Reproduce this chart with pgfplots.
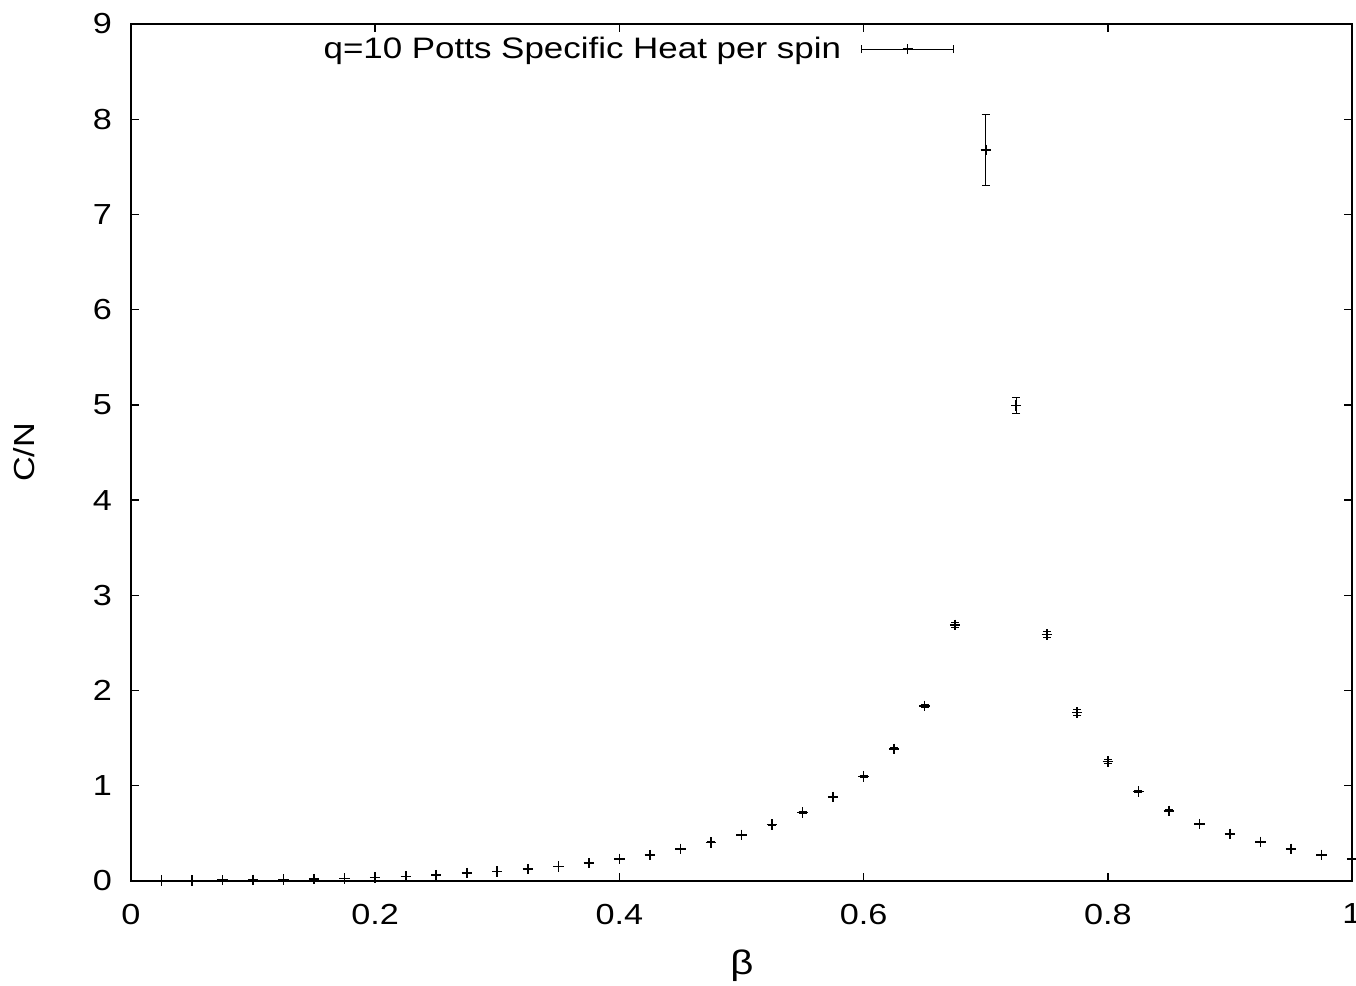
\documentclass[border=0pt]{standalone}
\usepackage{fontspec}
\setmainfont{Liberation Sans}[FakeStretch=1.18]
\usepackage{pgfplots}
\pgfplotsset{compat=1.18}
\usepackage{pgfplotstable}
\pgfplotstableread{
x y e
0.025 0.003 0.001
0.050 0.005 0.001
0.075 0.008 0.001
0.100 0.011 0.001
0.125 0.015 0.001
0.150 0.020 0.001
0.175 0.026 0.001
0.200 0.035 0.002
0.225 0.046 0.002
0.250 0.062 0.002
0.275 0.082 0.002
0.300 0.100 0.002
0.325 0.124 0.003
0.350 0.152 0.003
0.375 0.186 0.003
0.400 0.232 0.004
0.425 0.272 0.004
0.450 0.338 0.004
0.475 0.406 0.005
0.500 0.485 0.005
0.525 0.592 0.006
0.550 0.718 0.007
0.575 0.880 0.008
0.600 1.097 0.010
0.625 1.388 0.012
0.650 1.840 0.015
0.675 2.690 0.025
0.700 7.675 0.370
0.725 4.993 0.085
0.750 2.590 0.035
0.775 1.770 0.030
0.800 1.256 0.020
0.825 0.940 0.012
0.850 0.738 0.010
0.875 0.597 0.008
0.900 0.494 0.006
0.925 0.410 0.005
0.950 0.337 0.004
0.975 0.275 0.004
1.000 0.232 0.003
}\cdata
\begin{document}
\begin{tikzpicture}[font=\fontsize{14.5}{17}\selectfont]
\begin{axis}[
  scale only axis,
  width=610.5pt, height=428.5pt,
  xmin=0, xmax=1, ymin=0, ymax=9,
  xtick={0,0.2,0.4,0.6,0.8,1},
  ytick={0,1,2,3,4,5,6,7,8,9},
  xticklabels={0,0.2,0.4,0.6,0.8,1},
  /pgf/number format/assume math mode=true,
  axis line style={line width=0.9pt},
  major tick length=4pt,
  every tick/.style={black, line width=0.7pt},
  tick align=inside,
  minor tick num=0,
  yticklabel style={xshift=-6pt},
  xticklabel style={yshift=-8pt},
  xlabel={β},
  ylabel={C/N},
  xlabel style={at={(axis description cs:0.5004,0)}, anchor=north, yshift=-31pt, font=\fontsize{17}{19}\selectfont},
  ylabel style={at={(axis description cs:-0.0872,0.5)}, anchor=center},
  clip=false,
  legend plot pos=right,
  legend style={draw=none, fill=none, at={(0.6793,0.9708)}, anchor=east,
    font=\fontsize{14.8}{17}\selectfont, column sep=8pt},
  legend image code/.code={
    \draw[line width=0.5pt] (0pt,0pt) -- (46pt,0pt);
    \draw[line width=0.5pt] (0pt,-2pt) -- (0pt,2pt);
    \draw[line width=0.5pt] (46pt,-2pt) -- (46pt,2pt);
    \draw[line width=0.7pt] (23pt,-2.5pt) -- (23pt,2.5pt);
    \draw[line width=0.7pt] (20.5pt,0pt) -- (25.5pt,0pt);
  },
]
\addplot[black, only marks, mark=+, mark size=2.6pt, mark options={line width=0.8pt},
  error bars/.cd, y dir=both, y explicit,
  error mark=-,
  error mark options={rotate=90, mark size=2pt, line width=0.5pt},
  error bar style={line width=0.5pt}]
  table[x=x, y=y, y error=e] {\cdata};
\addlegendentry{q=10 Potts Specific Heat per spin}
\end{axis}
\pgfresetboundingbox
\path[use as bounding box] ([xshift=-65.5pt,yshift=-52.5pt]current axis.south west) rectangle ([xshift=2pt,yshift=12pt]current axis.north east);
\end{tikzpicture}
\end{document}
